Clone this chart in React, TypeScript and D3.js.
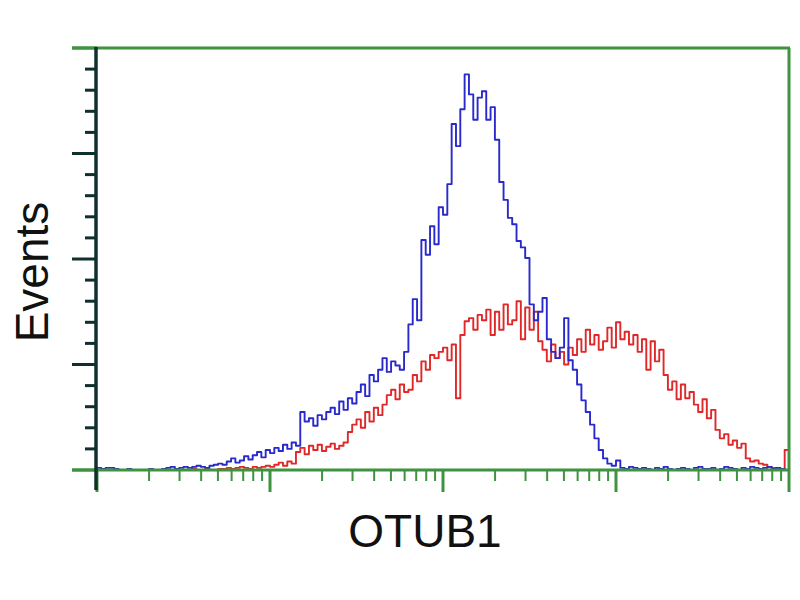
import { useRef, useEffect } from 'react';
import * as d3 from 'd3';

const W = 800;
const H = 600;
const PLOT = { left: 97, right: 789, top: 48, bottom: 470 };

// x axis: 4 log decades, 160 channels
const X_DOMAIN = [1, 10000];
const Y_DOMAIN = [0, 400];
const Y_MAJOR = [0, 100, 200, 300, 400];
const BIN_COUNT = 160;

const blueCounts = [
	2, 1, 2, 2, 1, 0, 0, 1, 0, 0, 0, 0, 1, 0, 0, 1,
	2, 3, 1, 2, 3, 2, 3, 4, 3, 2, 4, 5, 6, 5,
	8, 11, 7, 9, 13, 10,
	14, 17, 12, 19, 16, 21, 18, 24, 20, 26, 23,
	55,
	46, 49, 42, 52, 48, 55,
	59, 53, 65, 57, 68, 63, 74,
	81, 70, 90, 84,
	95, 106, 93, 103, 99,
	95, 112, 138, 162, 142, 218, 204, 231, 214, 249,
	242, 271, 328, 307, 342, 375, 356, 332, 353, 359,
	332, 344, 313, 273, 256, 239, 233, 217, 211, 201,
	157, 142, 150, 163, 124, 112, 106, 116, 144, 104,
	95, 81, 66, 55, 43, 30, 19, 11, 6, 4,
	9,
	2, 1, 3, 2, 1, 2, 1, 0, 2, 1, 3, 1, 0, 1, 2, 1, 0, 2, 3, 1,
	1, 2, 0, 1, 3, 2, 1, 0, 2, 1, 3, 2, 1, 2, 3, 1, 2, 1, 0,
];

const redCounts = [
	0, 0, 0, 0, 0, 0, 0, 0, 0, 0, 0, 0, 0, 0, 0, 0, 0, 0, 0, 0, 0, 0, 1, 0, 0, 1, 0, 0, 1,
	1, 2, 1, 2, 3, 2, 1, 3, 2, 3, 4, 3,
	5, 7, 4, 8, 6,
	17, 21, 15, 23, 19, 24, 18, 22, 25, 20, 23, 26,
	36, 43,
	48, 40, 55, 46, 59, 52, 62,
	71, 76, 67, 81, 74,
	76, 90, 84,
	103, 95, 109, 106, 112, 116,
	104, 119, 68, 128,
	141, 144, 133, 147, 142,
	152, 128, 150, 133, 157, 138,
	142, 160, 124, 154, 133, 150, 122,
	114, 103, 119, 106, 112, 100, 116, 109,
	124, 112, 133, 119, 128, 114,
	122, 135, 116, 140, 124, 131, 119, 128,
	112, 124, 95, 122, 103, 114,
	90, 76, 84, 67, 81, 68, 74,
	62, 55, 67, 49, 57,
	38, 30, 34, 24, 28, 21, 25,
	11, 8, 9, 6, 5,
	3, 2, 2, 1,
	19,
];

const GREEN = '#3f923f';
const DARK = '#10302e';

const App = () => {
	const ref = useRef<SVGSVGElement>(null);

	useEffect(() => {
		const svg = d3.select(ref.current);
		svg.selectAll('*').remove();

		const x = d3.scaleLog().domain(X_DOMAIN).range([PLOT.left, PLOT.right]);
		const y = d3.scaleLinear().domain(Y_DOMAIN).range([PLOT.bottom, PLOT.top]);

		const logMin = Math.log10(X_DOMAIN[0]);
		const logMax = Math.log10(X_DOMAIN[1]);
		const edge = (i: number) => Math.pow(10, logMin + (logMax - logMin) * i / BIN_COUNT);

		const line = d3.line<[number, number]>()
			.x(d => x(d[0]))
			.y(d => y(d[1]))
			.curve(d3.curveStepAfter);

		const drawHist = (counts: number[], color: string) => {
			const pts: [number, number][] = counts.map((c, i) => [edge(i), c]);
			pts.push([edge(counts.length), counts[counts.length - 1]]);
			svg.append('path')
				.attr('d', line(pts))
				.attr('fill', 'none')
				.attr('stroke', color)
				.attr('stroke-width', 1.9)
				.attr('stroke-linejoin', 'round');
		};

		drawHist(redCounts, '#e02828');
		drawHist(blueCounts, '#2a2acc');

		// frame
		svg.append('line')
			.attr('x1', 72).attr('x2', PLOT.right + 1)
			.attr('y1', PLOT.top).attr('y2', PLOT.top)
			.attr('stroke', GREEN).attr('stroke-width', 3);
		svg.append('line')
			.attr('x1', PLOT.right).attr('x2', PLOT.right)
			.attr('y1', PLOT.top).attr('y2', PLOT.bottom)
			.attr('stroke', GREEN).attr('stroke-width', 3);

		// bottom axis (log, green)
		const xTicks = x.ticks();
		svg.append('g')
			.selectAll('line')
			.data(xTicks)
			.join('line')
			.attr('x1', d => x(d)).attr('x2', d => x(d))
			.attr('y1', PLOT.bottom)
			.attr('y2', d => Number.isInteger(Math.log10(d)) ? PLOT.bottom + 22 : PLOT.bottom + 11)
			.attr('stroke', GREEN)
			.attr('stroke-width', d => Number.isInteger(Math.log10(d)) ? 3 : 2);
		svg.append('line')
			.attr('x1', 72).attr('x2', PLOT.right + 1)
			.attr('y1', PLOT.bottom).attr('y2', PLOT.bottom)
			.attr('stroke', GREEN).attr('stroke-width', 3);

		// left axis (dark)
		const yTicks = d3.range(0, 401, 20);
		svg.append('g')
			.selectAll('line')
			.data(yTicks)
			.join('line')
			.attr('x1', d => Y_MAJOR.includes(d) ? 72 : 85)
			.attr('x2', PLOT.left)
			.attr('y1', d => y(d)).attr('y2', d => y(d))
			.attr('stroke', d => (d === 0 || d === 400) ? GREEN : DARK)
			.attr('stroke-width', 3);
		svg.append('line')
			.attr('x1', PLOT.left - 1).attr('x2', PLOT.left - 1)
			.attr('y1', PLOT.top - 1).attr('y2', PLOT.bottom + 20)
			.attr('stroke', DARK).attr('stroke-width', 3.5);

		// labels
		svg.append('text')
			.attr('x', (PLOT.left + PLOT.right) / 2 - 18)
			.attr('y', 547)
			.attr('text-anchor', 'middle')
			.attr('font-family', 'Liberation Sans, Arial, sans-serif')
			.attr('font-size', 46)
			.attr('fill', '#111')
			.text('OTUB1');

		svg.append('text')
			.attr('transform', `translate(48, 272) rotate(-90)`)
			.attr('text-anchor', 'middle')
			.attr('font-family', 'Liberation Sans, Arial, sans-serif')
			.attr('font-size', 46)
			.attr('fill', '#111')
			.text('Events');
	}, []);

	return (
		<svg
			ref={ref}
			width={W}
			height={H}
			style={{ position: 'absolute', left: 0, top: 0, background: '#fff' }}
		/>
	);
};

export default App;
